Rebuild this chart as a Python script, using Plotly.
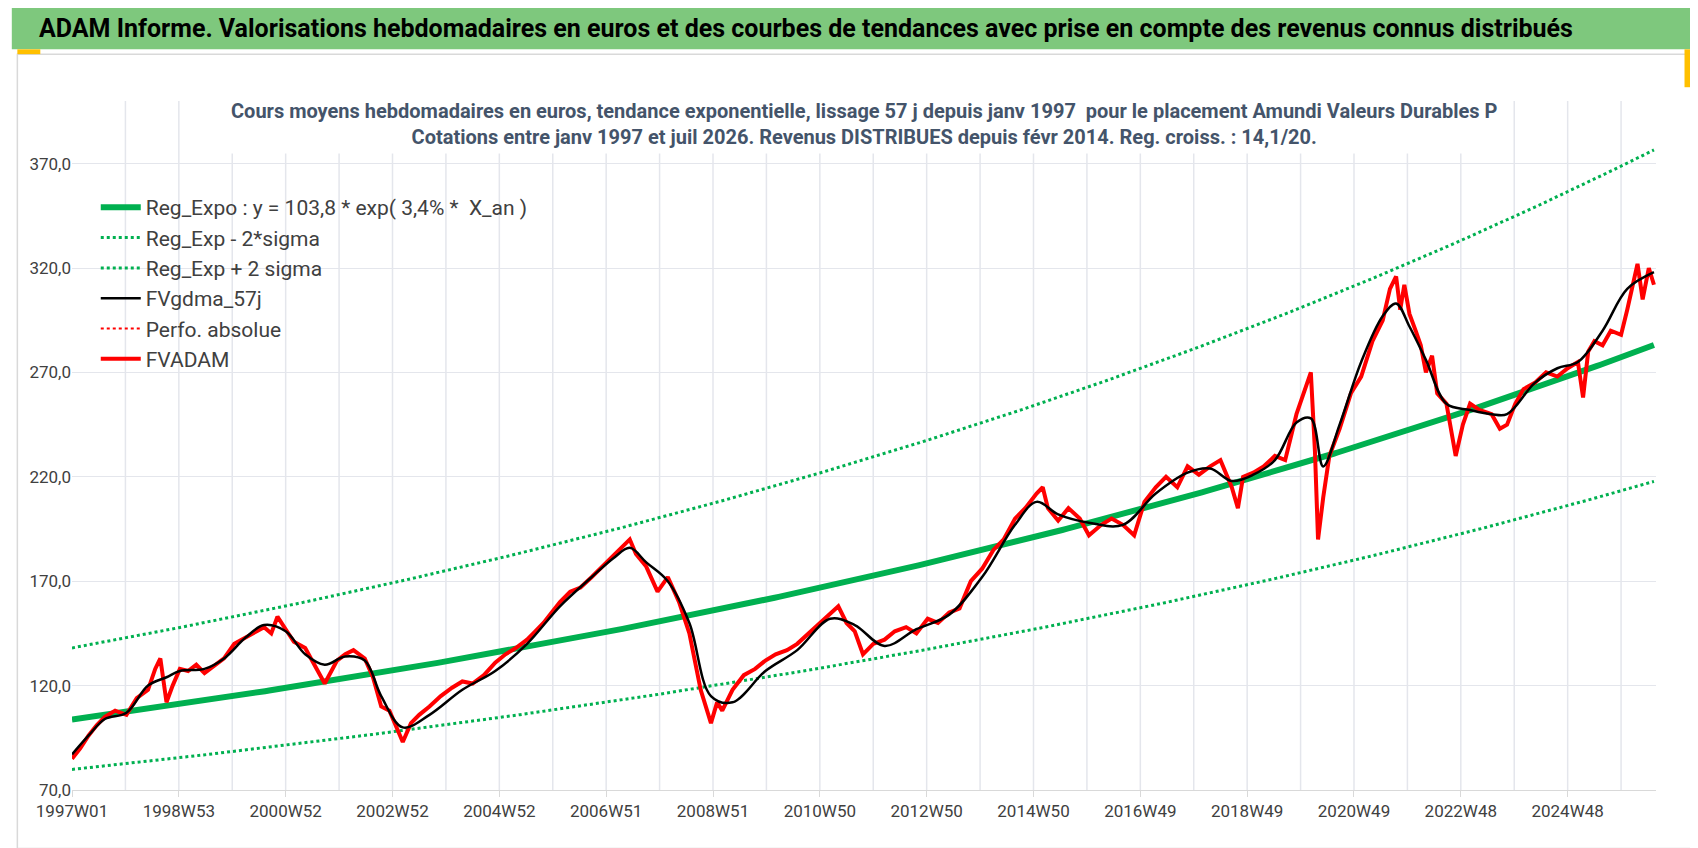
import math
import plotly.graph_objects as go

# weekly index (0 = 1997W01) and prices
weeks = [0, 8, 16, 24, 32, 42, 53, 63, 74, 81, 86, 92, 98, 105, 113, 121, 129, 137, 148, 158,
         169, 179, 187, 194, 200, 208, 216, 227, 236, 246, 258, 266, 274, 285, 293, 301, 309,
         316, 322, 330, 338, 348, 359, 370, 380, 390, 401, 412, 422, 432, 443, 451, 459, 467,
         475, 485, 495, 506, 516, 527, 535, 543, 549, 559, 570, 580, 591, 601, 612, 617, 622,
         628, 633, 643, 654, 665, 675, 685, 696, 706, 717, 727, 738, 746, 754, 762, 770, 780,
         791, 801, 812, 822, 833, 843, 854, 864, 875, 886, 897, 907, 918, 928, 939, 945, 950,
         960, 970, 981, 990, 1002, 1012, 1023, 1034, 1044, 1055, 1065, 1076, 1086, 1097, 1108,
         1118, 1129, 1135, 1140, 1150, 1160, 1171, 1181, 1192, 1200, 1206, 1210, 1213, 1218,
         1224, 1234, 1245, 1255, 1266, 1276, 1283, 1289, 1293, 1297, 1302, 1308, 1313, 1318,
         1324, 1329, 1338, 1347, 1354, 1361, 1370, 1382, 1390, 1397, 1405, 1413, 1424, 1435,
         1446, 1456, 1466, 1471, 1476, 1482, 1490, 1498, 1508, 1514, 1519, 1524, 1529, 1535,
         1540]
fvadam = [85, 90, 96, 101, 105, 108, 106, 114, 118, 128, 133, 112, 120, 128, 127, 130, 126,
          129, 133, 140, 143, 146, 148, 145, 153, 147, 141, 138, 130, 121, 132, 135, 137, 133,
          124, 110, 108, 100, 93, 102, 106, 110, 115, 119, 122, 121, 125, 131, 135, 138, 142,
          146, 150, 155, 160, 165, 167, 172, 177, 182, 186, 190, 183, 177, 165, 172, 160, 145,
          118, 110, 102, 112, 108, 118, 125, 128, 132, 135, 137, 140, 145, 150, 155, 158, 150,
          146, 135, 140, 142, 146, 148, 145, 152, 150, 155, 157, 170, 176, 185, 190, 200, 205,
          212, 215, 205, 199, 205, 200, 192, 197, 200, 197, 192, 208, 215, 220, 215, 225, 221,
          225, 228, 215, 205, 220, 222, 225, 230, 228, 250, 262, 270, 232, 190, 210, 230, 243,
          260, 268, 285, 295, 310, 316, 300, 312, 298, 290, 283, 270, 278, 260, 255, 230, 245,
          255, 252, 250, 243, 245, 255, 262, 265, 270, 268, 272, 275, 258, 280, 285, 283, 290,
          288, 300, 310, 322, 305, 320, 312, 320, 320]

# 57-day smoothed curve (FVgdma_57j)
weeks_smooth = [0, 16, 32, 53, 74, 92, 105, 129, 148, 169, 187, 208, 227, 246, 266, 285,
                301, 322, 348, 380, 412, 443, 475, 506, 527, 543, 559, 580, 601, 622, 643,
                675, 706, 738, 762, 791, 822, 854, 886, 918, 939, 960, 990, 1023, 1055, 1086,
                1108, 1129, 1150, 1171, 1192, 1206, 1218, 1234, 1255, 1276, 1289, 1302, 1318,
                1338, 1361, 1382, 1397, 1424, 1446, 1466, 1490, 1514, 1540]
fvgdma = [87, 96, 104, 107, 120, 124, 127, 128, 133, 143, 149, 146, 135, 130, 134, 132,
          115, 100, 106, 118, 127, 140, 158, 172, 181, 186, 179, 170, 150, 115, 112, 127, 137,
          152, 149, 139, 147, 154, 172, 197, 208, 202, 198, 197, 212, 222, 224, 218, 221,
          228, 246, 248, 225, 245, 275, 297, 303, 292, 276, 255, 252, 250, 250, 265, 272,
          275, 290, 310, 318]

# tick labels every 104 weeks
tick_weeks = [0, 104, 208, 312, 416, 520, 624, 728, 832, 936, 1040, 1144, 1248, 1352, 1456]
tick_labels = ["1997W01", "1998W53", "2000W52", "2002W52", "2004W52", "2006W51", "2008W51",
               "2010W50", "2012W50", "2014W50", "2016W49", "2018W49", "2020W49", "2022W48",
               "2024W48"]

# regression from the chart's stated equation
reg_a, reg_b = 103.8, 0.034
sig_up, sig_dn = 1.33, 1.30
reg_weeks = list(range(0, 1541, 4))
reg = [reg_a * math.exp(reg_b * w / 52.18) for w in reg_weeks]
reg_up = [v * sig_up for v in reg]
reg_dn = [v / sig_dn for v in reg]

GREEN = "#00b050"
font = "Liberation Sans Narrow, Arial Narrow, Roboto, Arial"

fig = go.Figure()
fig.add_trace(go.Scatter(x=reg_weeks, y=reg, mode="lines", name="Reg_Expo : y = 103,8 * exp( 3,4% *  X_an )",
                         line=dict(color=GREEN, width=6), legendrank=1))
fig.add_trace(go.Scatter(x=reg_weeks, y=reg_dn, mode="lines", name="Reg_Exp - 2*sigma",
                         line=dict(color=GREEN, width=3, dash="dot"), legendrank=2))
fig.add_trace(go.Scatter(x=reg_weeks, y=reg_up, mode="lines", name="Reg_Exp + 2 sigma",
                         line=dict(color=GREEN, width=3, dash="dot"), legendrank=3))
fig.add_trace(go.Scatter(x=weeks, y=fvadam, mode="lines", name="FVADAM",
                         line=dict(color="#ff0000", width=4), legendrank=6))
fig.add_trace(go.Scatter(x=weeks_smooth, y=fvgdma, mode="lines", name="FVgdma_57j",
                         line=dict(color="black", width=2.5, shape="spline"), legendrank=4))
fig.add_trace(go.Scatter(x=[None], y=[None], mode="lines", name="Perfo. absolue",
                         line=dict(color="#ff0000", width=2, dash="dot"), legendrank=5))

fig.update_layout(
    width=1698, height=848,
    margin=dict(l=64, r=50, t=93, b=66),
    paper_bgcolor="white", plot_bgcolor="white",
    font=dict(family=font, color="#404040"),
    showlegend=True,
    legend=dict(x=0.015, y=0.875, xanchor="left", yanchor="top", bgcolor="rgba(0,0,0,0)",
                font=dict(size=21, color="#404040", family=font), tracegroupgap=0,
                itemwidth=40),
    xaxis=dict(range=[0, 1542], tickvals=tick_weeks, ticktext=tick_labels,
               showgrid=False, showline=True, linecolor="#d9d9d9", ticks="outside",
               ticklen=6, tickcolor="#d9d9d9", tickfont=dict(size=17, color="#404040"),
               zeroline=False),
    yaxis=dict(range=[70, 400], tick0=70, dtick=50, tickformat=".1f", gridcolor="#e4e6ec",
               tickfont=dict(size=17, color="#404040"), zeroline=False),
    separators=",.",
)

# vertical gridlines every 52 weeks
for w in range(52, 1542, 52):
    fig.add_vline(x=w, line=dict(color="#e4e6ec", width=1.5), layer="below")

# title bar and chart frame
fig.add_shape(type="rect", xref="paper", yref="paper", x0=-0.038, x1=1.026, y0=1.075, y1=1.0 + 93 / 689,
              fillcolor="#7ec87d", line=dict(width=0), layer="below")
fig.add_shape(type="rect", xref="paper", yref="paper", x0=-0.0345, x1=1.023, y0=-0.085, y1=1.068,
              fillcolor="rgba(0,0,0,0)", line=dict(color="#d9d9d9", width=1.5))
fig.add_shape(type="rect", xref="paper", yref="paper", x0=-0.0345, x1=-0.02, y0=1.068, y1=1.075,
              fillcolor="#ffc000", line=dict(width=0))
fig.add_shape(type="rect", xref="paper", yref="paper", x0=1.018, x1=1.023, y0=1.02, y1=1.075,
              fillcolor="#ffc000", line=dict(width=0))

fig.add_annotation(xref="paper", yref="paper", x=-0.022, y=1.105, xanchor="left", yanchor="middle",
                   text="<b>ADAM Informe. Valorisations hebdomadaires en euros et des courbes de tendances avec prise en compte des revenus connus distribués</b>",
                   showarrow=False, font=dict(size=25, color="black", family=font))
fig.add_annotation(xref="paper", yref="paper", x=0.5, y=1.01, xanchor="center", yanchor="top",
                   text="<b>Cours moyens hebdomadaires en euros, tendance exponentielle, lissage 57 j depuis janv 1997  pour le placement Amundi Valeurs Durables P</b>"
                        "<br><b>Cotations entre janv 1997 et juil 2026. Revenus DISTRIBUES depuis févr 2014. Reg. croiss. : 14,1/20.</b>",
                   showarrow=False, bgcolor="white", borderpad=4,
                   font=dict(size=20, color="#44546a", family=font))

fig.write_html("out.html")
